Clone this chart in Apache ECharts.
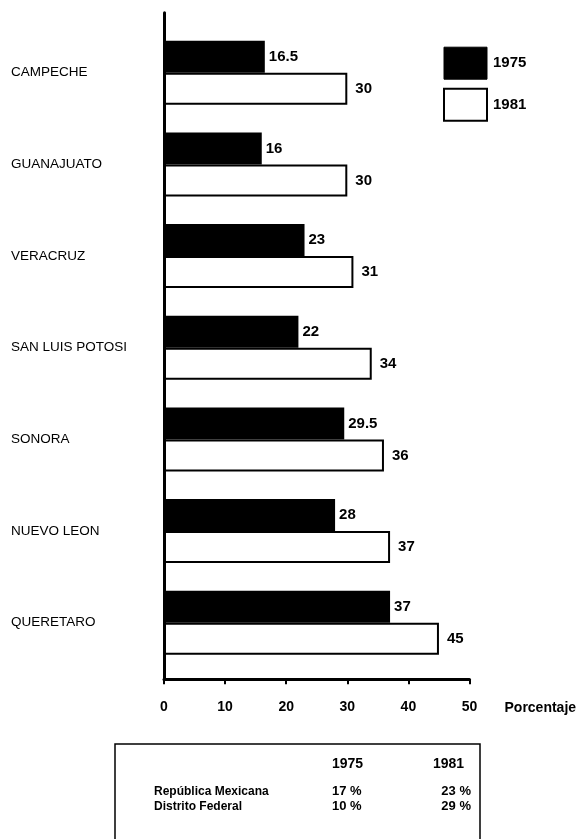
<!DOCTYPE html>
<html>
<head>
<meta charset="utf-8">
<script src="https://cdn.jsdelivr.net/npm/echarts@6/dist/echarts.min.js"></script>
<style>
html,body{margin:0;padding:0;background:#fff;}
#chart{width:583px;height:839px;}
</style>
</head>
<body>
<div id="chart"></div>
<script>
// ---- data ----
var categories = ['CAMPECHE', 'GUANAJUATO', 'VERACRUZ', 'SAN LUIS POTOSI', 'SONORA', 'NUEVO LEON', 'QUERETARO'];
var values1975 = [16.5, 16, 23, 22, 29.5, 28, 37];
var values1981 = [30, 30, 31, 34, 36, 37, 45];
var seriesNames = ['1975', '1981'];
var xTicks = [0, 10, 20, 30, 40, 50];
var xAxisName = 'Porcentaje';
var tableYears = ['1975', '1981'];
var tableRows = ['República Mexicana', 'Distrito Federal'];
var table1975 = ['17 %', '10 %'];
var table1981 = ['23 %', '29 %'];

var FONT = "'Liberation Sans', Arial, Helvetica, sans-serif";
var chart = echarts.init(document.getElementById('chart'), null, {renderer: 'canvas'});

var gridLeft = 164, gridRight = 583 - 469.5;

var graphics = [
  {type: 'rect', shape: {x: 115, y: 744, width: 365, height: 110},
   style: {fill: 'none', stroke: '#000', lineWidth: 1.5}, z: 10}
];
graphics.push({type: 'text', x: 332, y: 764, style: {text: tableYears[0], font: 'bold 14px ' + FONT, fill: '#000', textAlign: 'left', textVerticalAlign: 'middle'}});
graphics.push({type: 'text', x: 433, y: 764, style: {text: tableYears[1], font: 'bold 14px ' + FONT, fill: '#000', textAlign: 'left', textVerticalAlign: 'middle'}});
var rowY = [791.5, 806.5];
for (var i = 0; i < tableRows.length; i++) {
  graphics.push({type: 'text', x: 154, y: rowY[i], style: {text: tableRows[i], font: 'bold 12px ' + FONT, fill: '#000', textAlign: 'left', textVerticalAlign: 'middle'}});
  graphics.push({type: 'text', x: 332, y: rowY[i], style: {text: table1975[i], font: 'bold 13px ' + FONT, fill: '#000', textAlign: 'left', textVerticalAlign: 'middle'}});
  graphics.push({type: 'text', x: 471, y: rowY[i], style: {text: table1981[i], font: 'bold 13px ' + FONT, fill: '#000', textAlign: 'right', textVerticalAlign: 'middle'}});
}

var option = {
  backgroundColor: '#fff',
  animation: false,
  textStyle: {fontFamily: FONT, color: '#000'},
  legend: {
    orient: 'vertical', left: 438, top: 41.7,
    itemWidth: 43, itemHeight: 32, itemGap: 8,
    icon: 'rect',
    textStyle: {fontFamily: FONT, fontSize: 15, fontWeight: 'bold', color: '#000', padding: [0, 0, 0, 1]},
    data: [
      {name: seriesNames[0], itemStyle: {color: '#000', borderColor: '#000', borderWidth: 1}},
      {name: seriesNames[1], itemStyle: {color: '#fff', borderColor: '#000', borderWidth: 2}}
    ]
  },
  grid: [
    {left: gridLeft, right: gridRight, top: 12.7, bottom: 839 - 679.3, containLabel: false},
    {left: gridLeft, right: gridRight, top: 26.9, height: 641.7, containLabel: false}
  ],
  xAxis: [
    {
      gridIndex: 0, type: 'value', min: xTicks[0], max: xTicks[xTicks.length - 1], interval: 10,
      z: 10,
      name: xAxisName, nameLocation: 'end', nameGap: 35,
      nameTextStyle: {fontFamily: FONT, fontSize: 14, fontWeight: 'bold', color: '#000', verticalAlign: 'top', padding: [22, 0, 0, 0], align: 'left'},
      axisLine: {show: true, lineStyle: {color: '#000', width: 3}},
      axisTick: {show: true, inside: false, length: 5, lineStyle: {color: '#000', width: 2}},
      axisLabel: {show: true, margin: 21, fontFamily: FONT, fontSize: 14, fontWeight: 'bold', color: '#000'},
      splitLine: {show: false}
    },
    {gridIndex: 1, type: 'value', min: xTicks[0], max: xTicks[xTicks.length - 1], show: false}
  ],
  yAxis: [
    {
      gridIndex: 0, type: 'value', min: 0, max: 1, z: 10,
      axisLine: {show: true, lineStyle: {color: '#000', width: 3}},
      axisTick: {show: false}, axisLabel: {show: false}, splitLine: {show: false}
    },
    {
      gridIndex: 1, type: 'category', inverse: true, data: categories,
      axisLine: {show: false}, axisTick: {show: false}, splitLine: {show: false},
      axisLabel: {show: true, align: 'left', margin: gridLeft - 11, fontFamily: FONT, fontSize: 13.5, color: '#000'}
    }
  ],
  series: [
    {
      name: seriesNames[0], type: 'bar', xAxisIndex: 1, yAxisIndex: 1,
      data: values1975, barWidth: 32, barGap: '0%',
      itemStyle: {color: '#000', borderColor: '#000', borderWidth: 0},
      label: {show: true, position: 'right', distance: 4, fontFamily: FONT, fontSize: 15, fontWeight: 'bold', color: '#000'}
    },
    {
      name: seriesNames[1], type: 'bar', xAxisIndex: 1, yAxisIndex: 1,
      data: values1981, barWidth: 32, barGap: '0%',
      itemStyle: {color: '#fff', borderColor: '#000', borderWidth: 2},
      label: {show: true, position: 'right', distance: 8, fontFamily: FONT, fontSize: 15, fontWeight: 'bold', color: '#000'}
    }
  ],
  graphic: graphics
};
chart.setOption(option);
</script>
</body>
</html>
